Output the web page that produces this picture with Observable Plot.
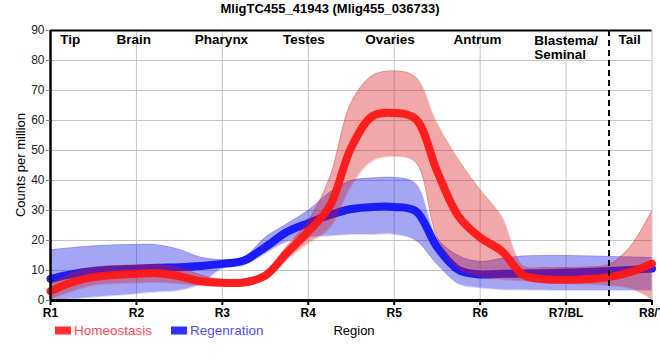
<!DOCTYPE html>
<html>
<head>
<meta charset="utf-8">
<script src="https://cdn.jsdelivr.net/npm/d3@7"></script>
<script src="https://cdn.jsdelivr.net/npm/@observablehq/plot@0.6"></script>
<style>
  html, body { margin: 0; padding: 0; background: #fff; }
  #chart svg { display: block; }
</style>
</head>
<body>
<div id="chart"></div>
<script>
// ---- data ----
const chartTitle = "MligTC455_41943 (Mlig455_036733)";
const regionTicks = [1, 2, 3, 4, 5, 6, 7, 8];
const regionTickLabels = ["R1", "R2", "R3", "R4", "R5", "R6", "R7/BL", "R8/T"];
const regionNames = ["Tip", "Brain", "Pharynx", "Testes", "Ovaries", "Antrum", "Blastema/\nSeminal", "Tail"];
const regionNameX = [1.23, 1.97, 2.99, 3.95, 4.95, 5.97, 6.63, 7.74];
const regionNameAnchor = ["middle", "middle", "middle", "middle", "middle", "middle", "start", "middle"];
const tailBoundary = [7.5];
const yTicks = [0, 10, 20, 30, 40, 50, 60, 70, 80, 90];

const xs = [1, 1.25, 1.5, 2, 2.25, 2.5, 2.75, 3, 3.25, 3.5, 3.75, 4, 4.25, 4.5, 4.75, 5, 5.25, 5.5, 5.75, 6, 6.25, 6.5, 6.75, 7, 7.25, 7.5, 7.75, 8];

const homMean = [3.1, 6.1, 7.8, 8.9, 9.1, 8.1, 6.4, 5.9, 6.0, 8.3, 15.8, 23, 31.5, 51, 61.5, 62.5, 60.5, 43, 28, 21, 16.5, 8.5, 7.1, 6.9, 7.2, 7.8, 9.5, 12.3];
const homHigh = [5.5, 9, 11, 11.8, 11.8, 11, 8.5, 7, 7.2, 9.5, 18, 26.5, 41, 66, 75, 76.5, 74.5, 59, 47, 37, 28, 11.5, 11, 11, 11.2, 12, 18, 30];
const homLow  = [0.3, 3, 5, 5.8, 6, 5.6, 5, 4.8, 5, 7, 13.5, 19, 24, 38, 46.5, 48, 46, 21, 10.5, 7.8, 7, 6.5, 6, 5.6, 5.4, 5, 4, 0.5];

const regMean = [7.2, 8.8, 9.8, 10.6, 10.9, 11.1, 11.5, 12.2, 13.3, 17.8, 22.8, 25.8, 28.5, 30.5, 31.2, 31.2, 29.8, 17.8, 10.2, 8.7, 8.9, 9.0, 9.1, 9.3, 9.5, 9.8, 10.2, 10.7];
const regHigh = [16.9, 17.6, 18.2, 18.7, 18.5, 17, 14.4, 13.6, 14.4, 21, 25.5, 30, 36, 40, 40.8, 41, 39, 21, 15, 13, 14, 14.8, 15, 15, 14.8, 14.7, 14.5, 14.3];
const regLow  = [0, 0.5, 1.1, 2.2, 2.8, 3.3, 5.5, 10.6, 11.7, 15.5, 19.5, 21, 21.5, 22, 22, 22, 20, 12, 5.5, 4.2, 3.6, 3.5, 3.4, 3.3, 3.3, 3.3, 3.3, 3.3];

const seriesNames = ["Homeostasis", "Regenration"];

// ---- tables for the library ----
const hom = xs.map((x, i) => ({x, mean: homMean[i], low: homLow[i], high: homHigh[i]}));
const reg = xs.map((x, i) => ({x, mean: regMean[i], low: regLow[i], high: regHigh[i]}));
const names = regionNames.map((name, i) => ({name, x: regionNameX[i], anchor: regionNameAnchor[i]}));

const FONT = "'Liberation Sans', Arial, sans-serif";
const curve = "catmull-rom";

const plot = Plot.plot({
  width: 660,
  height: 360,
  marginTop: 30,
  marginBottom: 60,
  marginLeft: 50,
  marginRight: 8.5,
  style: {fontFamily: FONT, background: "#fff", overflow: "hidden"},
  x: {domain: [1, 8]},
  y: {domain: [0, 90]},
  marks: [
    Plot.gridY(yTicks.filter(d => d > 0), {stroke: "#c4c4c4", strokeOpacity: 1, strokeWidth: 1}),
    Plot.gridX(regionTicks.filter(d => d > 1), {stroke: "#c4c4c4", strokeOpacity: 1, strokeWidth: 1}),
    // Regeneration
    Plot.areaY(reg, {x: "x", y1: "low", y2: "high", fill: "rgb(30,30,230)", fillOpacity: 0.4, curve}),
    Plot.line(reg, {x: "x", y: "high", stroke: "rgb(30,30,230)", strokeOpacity: 0.15, strokeWidth: 1, curve}),
    Plot.line(reg, {x: "x", y: "low", stroke: "rgb(30,30,230)", strokeOpacity: 0.15, strokeWidth: 1, curve}),
    Plot.line(reg, {x: "x", y: "mean", stroke: "rgb(20,20,250)", strokeOpacity: 0.95, strokeWidth: 8, curve}),
    // Homeostasis
    Plot.areaY(hom, {x: "x", y1: "low", y2: "high", fill: "rgb(215,25,25)", fillOpacity: 0.38, curve}),
    Plot.line(hom, {x: "x", y: "high", stroke: "rgb(215,25,25)", strokeOpacity: 0.2, strokeWidth: 1, curve}),
    Plot.line(hom, {x: "x", y: "low", stroke: "rgb(215,25,25)", strokeOpacity: 0.2, strokeWidth: 1, curve}),
    Plot.line(hom, {x: "x", y: "mean", stroke: "rgb(255,22,22)", strokeOpacity: 0.95, strokeWidth: 8, curve}),
    // tail boundary
    Plot.ruleX(tailBoundary, {stroke: "#000", strokeWidth: 2, strokeDasharray: "6,4"}),
    // frame
    Plot.ruleY([90], {stroke: "#000", strokeWidth: 2}),
    Plot.ruleX([1], {stroke: "#000", strokeWidth: 2.5}),
    Plot.ruleY([0], {stroke: "#000", strokeWidth: 3}),
    // axes
    Plot.axisX([...regionTicks, ...tailBoundary], {
      tickSize: 5, tickPadding: 3, stroke: "#000", strokeWidth: 2,
      tickFormat: d => { const i = regionTicks.indexOf(d); return i >= 0 ? regionTickLabels[i] : ""; },
      fontSize: 12, fontWeight: "bold", fill: "#000", label: null
    }),
    Plot.axisY(yTicks, {
      tickSize: 4, tickPadding: 2, stroke: "#888",
      fontSize: 12, fill: "#222", label: null
    }),
    // region names
    Plot.text(names.filter(d => d.anchor === "middle"), {
      x: "x", frameAnchor: "top", dy: 4, lineAnchor: "top",
      text: "name", textAnchor: "middle", fontSize: 13.5, fontWeight: "bold", fill: "#000"
    }),
    Plot.text(names.filter(d => d.anchor === "start"), {
      x: "x", frameAnchor: "top", dy: 4, lineAnchor: "top", lineHeight: 1.05,
      text: "name", textAnchor: "start", fontSize: 13.5, fontWeight: "bold", fill: "#000"
    })
  ]
});

// ---- title, axis titles, legend ----
const svg = d3.select(plot);
svg.append("text")
  .attr("x", 330).attr("y", 13).attr("text-anchor", "middle")
  .style("font", `bold 13px ${FONT}`).attr("fill", "#000")
  .text(chartTitle);
svg.append("text")
  .attr("transform", "translate(25,165) rotate(-90)").attr("text-anchor", "middle")
  .style("font", `13px ${FONT}`).attr("fill", "#000")
  .text("Counts per million");
svg.append("text")
  .attr("x", 354).attr("y", 335).attr("text-anchor", "middle")
  .style("font", `13px ${FONT}`).attr("fill", "#000")
  .text("Region");
const legendItems = [
  {name: seriesNames[0], sw: 55, tx: 74, swatch: "#ff3030", color: "#ff4a5a"},
  {name: seriesNames[1], sw: 171, tx: 190, swatch: "#3030ff", color: "#5050ff"}
];
for (const it of legendItems) {
  svg.append("rect").attr("x", it.sw).attr("y", 326.5).attr("width", 16).attr("height", 8).attr("fill", it.swatch);
  svg.append("text").attr("x", it.tx).attr("y", 335).attr("text-anchor", "start")
    .style("font", `13.5px ${FONT}`).attr("fill", it.color).text(it.name);
}

document.getElementById("chart").appendChild(plot);
</script>
</body>
</html>
